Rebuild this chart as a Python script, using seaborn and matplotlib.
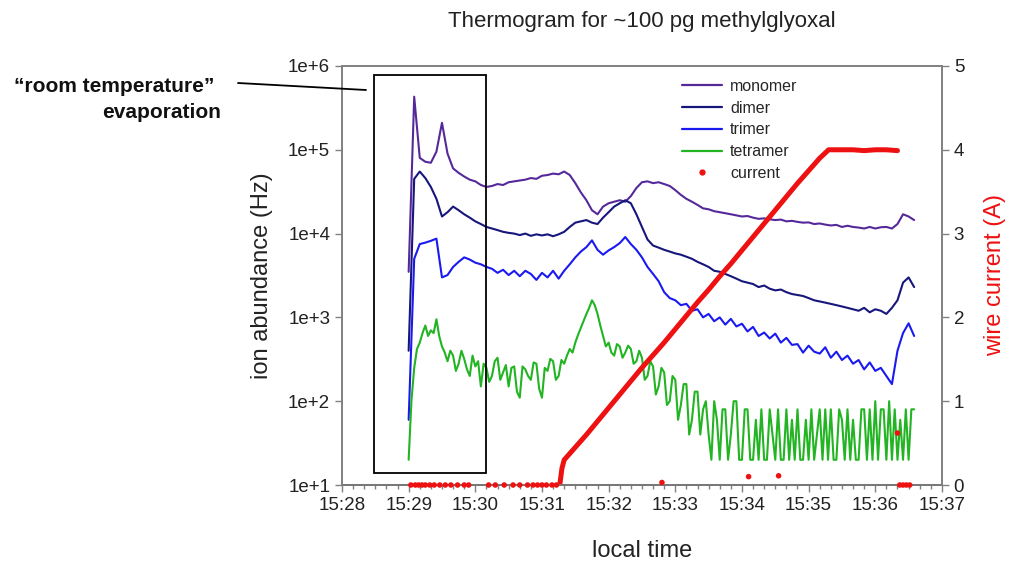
import numpy as np
import pandas as pd
import matplotlib.pyplot as plt
import seaborn as sns
from matplotlib.lines import Line2D
from matplotlib.patches import Rectangle
from matplotlib.ticker import MultipleLocator, FixedLocator, FuncFormatter, NullLocator

# sample times, seconds after 15:29:00 (one reading every 5 s)
t_sec = np.arange(0, 460, 5)
# tetramer is logged twice as often
t_sec_tet = np.arange(0, 457.5, 2.5)

monomer = [3.5e3, 4.3e5, 8.0e4, 7.2e4, 7.0e4, 9.5e4, 2.1e5, 9.0e4, 6.0e4, 5.3e4,
           4.8e4, 4.4e4, 4.2e4, 3.8e4, 3.6e4, 3.7e4, 3.9e4, 3.8e4, 4.1e4, 4.2e4,
           4.3e4, 4.4e4, 4.6e4, 4.5e4, 4.9e4, 5.0e4, 5.2e4, 5.1e4, 5.5e4, 5.0e4,
           4.0e4, 3.1e4, 2.5e4, 1.9e4, 1.7e4, 2.1e4, 2.3e4, 2.4e4, 2.5e4, 2.4e4,
           2.8e4, 3.5e4, 4.1e4, 4.2e4, 4.0e4, 4.1e4, 3.9e4, 3.7e4, 3.3e4, 2.9e4,
           2.6e4, 2.4e4, 2.2e4, 2.0e4, 1.95e4, 1.85e4, 1.8e4, 1.75e4, 1.7e4, 1.65e4,
           1.6e4, 1.62e4, 1.55e4, 1.5e4, 1.52e4, 1.48e4, 1.45e4, 1.47e4, 1.4e4, 1.42e4,
           1.38e4, 1.35e4, 1.36e4, 1.3e4, 1.32e4, 1.28e4, 1.25e4, 1.27e4, 1.2e4, 1.24e4,
           1.2e4, 1.18e4, 1.15e4, 1.2e4, 1.15e4, 1.19e4, 1.2e4, 1.15e4, 1.3e4, 1.7e4,
           1.6e4, 1.45e4]

dimer = [4.0e2, 4.5e4, 5.5e4, 4.6e4, 3.6e4, 2.6e4, 1.6e4, 1.8e4, 2.1e4, 1.9e4,
         1.7e4, 1.55e4, 1.4e4, 1.3e4, 1.2e4, 1.15e4, 1.1e4, 1.05e4, 1.02e4, 1.0e4,
         9.6e3, 1.0e4, 9.4e3, 9.8e3, 9.5e3, 9.8e3, 9.3e3, 9.8e3, 1.05e4, 1.2e4,
         1.35e4, 1.4e4, 1.45e4, 1.35e4, 1.3e4, 1.55e4, 1.8e4, 2.1e4, 2.3e4, 2.5e4,
         2.3e4, 1.7e4, 1.2e4, 8.5e3, 7.2e3, 6.8e3, 6.4e3, 6.1e3, 5.8e3, 5.6e3,
         5.3e3, 5.0e3, 4.6e3, 4.3e3, 4.0e3, 3.6e3, 3.5e3, 3.3e3, 3.1e3, 2.9e3,
         2.7e3, 2.6e3, 2.5e3, 2.3e3, 2.4e3, 2.2e3, 2.1e3, 2.15e3, 2.0e3, 1.9e3,
         1.85e3, 1.8e3, 1.7e3, 1.6e3, 1.55e3, 1.5e3, 1.45e3, 1.4e3, 1.35e3, 1.3e3,
         1.25e3, 1.2e3, 1.3e3, 1.15e3, 1.25e3, 1.2e3, 1.1e3, 1.3e3, 1.6e3, 2.6e3,
         3.0e3, 2.3e3]

trimer = [60, 5.0e3, 7.5e3, 7.8e3, 8.2e3, 8.7e3, 3.0e3, 3.2e3, 4.0e3, 4.6e3,
          5.2e3, 4.9e3, 4.5e3, 4.3e3, 4.0e3, 3.8e3, 3.4e3, 3.7e3, 3.2e3, 3.6e3,
          3.1e3, 3.6e3, 3.3e3, 2.8e3, 3.4e3, 3.0e3, 3.6e3, 2.9e3, 3.6e3, 4.3e3,
          5.2e3, 6.1e3, 6.9e3, 8.3e3, 6.4e3, 5.6e3, 6.3e3, 6.9e3, 7.7e3, 9.1e3,
          7.5e3, 6.4e3, 5.2e3, 4.0e3, 3.3e3, 2.7e3, 2.0e3, 1.7e3, 1.6e3, 1.4e3,
          1.45e3, 1.2e3, 1.25e3, 1.0e3, 1.1e3, 900, 1.0e3, 820, 960, 780,
          840, 680, 770, 600, 660, 560, 640, 500, 570, 470,
          480, 380, 460, 390, 370, 440, 330, 390, 310, 350,
          280, 310, 240, 290, 230, 250, 200, 160, 400, 650,
          850, 600]

tetramer = [20, 100, 250, 420, 500, 650, 800, 600, 700, 650,
            950, 600, 450, 380, 300, 400, 350, 230, 280, 400,
            320, 240, 200, 350, 260, 300, 150, 280, 250, 170,
            200, 300, 330, 180, 220, 270, 150, 250, 260, 130,
            110, 260, 240, 200, 180, 290, 280, 140, 110, 250,
            230, 320, 300, 180, 200, 310, 280, 350, 420, 380,
            500, 620, 750, 900, 1100, 1300, 1600, 1400, 1100, 800,
            600, 450, 500, 380, 350, 480, 450, 330, 380, 460,
            420, 280, 300, 400, 330, 180, 200, 300, 260, 120,
            150, 250, 220, 90, 100, 200, 180, 60, 90, 160,
            160, 40, 60, 130, 130, 40, 80, 100, 40, 20,
            100, 60, 20, 80, 80, 20, 40, 100, 100, 20,
            20, 80, 80, 20, 20, 60, 20, 80, 20, 20,
            80, 40, 20, 80, 20, 20, 80, 20, 60, 20,
            80, 20, 20, 60, 20, 80, 20, 40, 80, 20,
            80, 20, 80, 20, 20, 80, 60, 20, 80, 20,
            60, 20, 20, 80, 80, 20, 80, 20, 100, 20,
            80, 80, 20, 100, 20, 80, 20, 60, 20, 80,
            20, 80, 80]

# wire current: the heating ramp and plateau (s after 15:29, A)
ramp_sec = [136, 138, 140, 150, 160, 170, 180, 190, 200, 210, 220, 230, 240,
            250, 260, 270, 280, 290, 300, 310, 320, 330, 340, 350, 360, 370,
            378, 390, 400, 410, 420, 430, 440]
ramp_amp = [0.0, 0.2, 0.3, 0.45, 0.6, 0.76, 0.92, 1.08, 1.24, 1.4, 1.55, 1.7, 1.86,
            2.02, 2.18, 2.33, 2.49, 2.64, 2.8, 2.96, 3.12, 3.28, 3.44, 3.6, 3.75, 3.9,
            4.0, 4.0, 4.0, 3.99, 4.0, 4.0, 3.99]
# single current readings off the ramp
dots_sec = [2, 6, 9, 12, 15, 19, 23, 28, 33, 38, 44, 50, 54, 72, 78, 86, 94, 100,
            107, 112, 116, 120, 124, 129, 133, 228, 306, 333, 440, 442, 445, 448, 451]
dots_amp = [0, 0, 0, 0, 0, 0, 0, 0, 0, 0, 0, 0, 0, 0, 0, 0, 0, 0,
            0, 0, 0, 0, 0, 0, 0, 0.03, 0.1, 0.11, 0.62, 0, 0, 0, 0]

species = ["monomer", "dimer", "trimer", "tetramer"]
colors = {"monomer": "#55299a", "dimer": "#16167c", "trimer": "#1a1af0",
          "tetramer": "#22b422"}
red = "#ee1111"
gray = "#808080"

frames = []
for name, vals in zip(species, [monomer, dimer, trimer, tetramer]):
    ts = t_sec_tet if name == "tetramer" else t_sec
    frames.append(pd.DataFrame({"minute": (ts + 60) / 60.0,
                                "abundance": vals, "species": name}))
df = pd.concat(frames, ignore_index=True)

sns.set_theme(style="ticks")
plt.rcParams["font.family"] = ["Liberation Sans", "DejaVu Sans"]

fig = plt.figure(figsize=(10.1, 5.62), dpi=100)
ax = fig.add_axes([0.3386, 0.137, 0.594, 0.7456])

sns.lineplot(data=df, x="minute", y="abundance", hue="species", palette=colors,
             estimator=None, sort=False, lw=1.5, legend=False, ax=ax)
ax.set_yscale("log")
ax.set_ylim(10, 1e6)
ax.set_xlim(0, 9)
ax.yaxis.set_major_locator(FixedLocator([1e1, 1e2, 1e3, 1e4, 1e5, 1e6]))
ax.yaxis.set_minor_locator(NullLocator())
ax.yaxis.set_major_formatter(FuncFormatter(lambda v, p: "1e+%d" % round(np.log10(v))))
ax.xaxis.set_major_locator(MultipleLocator(1))
ax.xaxis.set_minor_locator(MultipleLocator(1 / 6))
ax.xaxis.set_major_formatter(FuncFormatter(lambda v, p: "15:%02d" % (28 + round(v))))
ax.set_xlabel("local time", fontsize=17, labelpad=19, color="#222222")
ax.set_ylabel("ion abundance (Hz)", fontsize=17, labelpad=11, color="#222222")

# room temperature box
ax.add_patch(Rectangle((0.0533, 0.0286), 0.187, 0.95, transform=ax.transAxes,
                       fill=False, ec="black", lw=1.3, zorder=5))

ax2 = ax.twinx()
sns.lineplot(x=(np.array(ramp_sec) + 60) / 60.0, y=ramp_amp, color=red, lw=3.6,
             ax=ax2, legend=False)
sns.scatterplot(x=(np.array(dots_sec) + 60) / 60.0, y=dots_amp, color=red, s=16,
                edgecolor="none", ax=ax2, legend=False, clip_on=False, zorder=6)
ax2.set_ylim(0, 5)
ax2.yaxis.set_major_locator(MultipleLocator(1))
ax2.set_ylabel("wire current (A)", fontsize=17, color=red, labelpad=14)

for a in (ax, ax2):
    for s in a.spines.values():
        s.set_visible(True)
        s.set_color(gray)
        s.set_linewidth(1.2)
    a.tick_params(which="major", direction="out", length=5, width=1, color=gray,
                  labelsize=13.5, labelcolor="#222222")
    a.tick_params(which="minor", direction="out", length=3, width=1, color=gray)
ax.spines["bottom"].set_color("#333333")

ax.set_title("Thermogram for ~100 pg methylglyoxal", fontsize=16, pad=28,
             color="#222222")

handles = [Line2D([], [], color=colors[n], lw=1.6) for n in species]
handles.append(Line2D([], [], color=red, marker="o", ls="", markersize=3.5))
ax2.legend(handles, species + ["current"], loc="upper left",
           bbox_to_anchor=(682 / 1010, 1 - 79 / 562), bbox_transform=fig.transFigure,
           frameon=False, fontsize=11.5, handlelength=2.5, handletextpad=0.5,
           labelspacing=0.42, borderpad=0, borderaxespad=0)

fig.text(214 / 1010, 1 - 87 / 562, "\u201croom temperature\u201d", ha="right",
         va="center", fontsize=15, fontweight="bold", color="#111111")
fig.text(221 / 1010, 1 - 112 / 562, "evaporation", ha="right", va="center",
         fontsize=15, fontweight="bold", color="#111111")
fig.add_artist(Line2D([238 / 1010, 366 / 1010], [1 - 83 / 562, 1 - 90 / 562],
                      transform=fig.transFigure, color="black", lw=1.3))

fig.savefig("out.png", dpi=100)
